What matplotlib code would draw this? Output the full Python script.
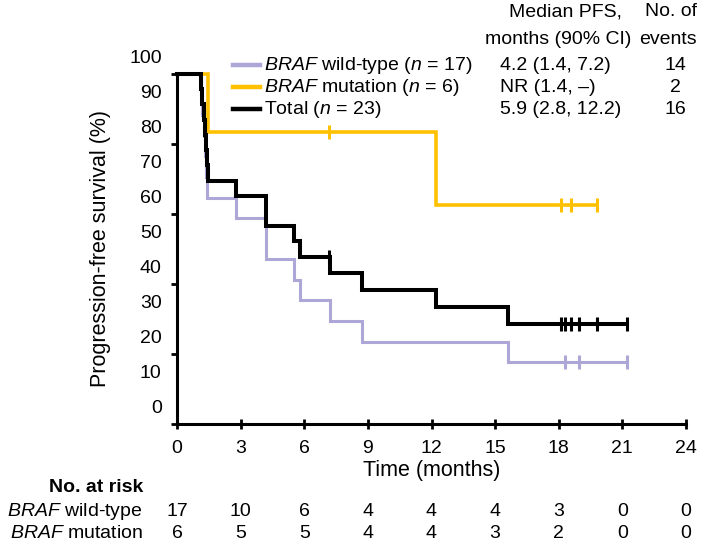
import numpy as np
import matplotlib
matplotlib.use("Agg")
import matplotlib.pyplot as plt
from matplotlib.transforms import blended_transform_factory

plt.rcParams['font.family'] = ['Liberation Sans', 'DejaVu Sans']
plt.rcParams['mathtext.fontset'] = 'custom'
plt.rcParams['mathtext.rm'] = 'Liberation Sans'
plt.rcParams['mathtext.it'] = 'Liberation Sans:italic'

# follow-up times (months) and event flags (1 = progression, 0 = censored)
wt_times = [1.15, 1.2, 1.25, 1.3, 1.35, 1.4, 2.8, 4.2, 4.2, 5.5, 5.8, 7.2, 8.7, 15.6,
            18.3, 18.95, 21.2]
wt_events = [1, 1, 1, 1, 1, 1, 1, 1, 1, 1, 1, 1, 1, 1, 0, 0, 0]
mut_times = [1.45, 7.15, 12.2, 18.1, 18.6, 19.8]
mut_events = [1, 0, 1, 0, 0, 0]

legend_labels = [r'$\mathit{BRAF}$ wild-type ($\mathit{n}$ = 17)',
                 r'$\mathit{BRAF}$ mutation ($\mathit{n}$ = 6)',
                 r'Total ($\mathit{n}$ = 23)']
median_pfs = ['4.2 (1.4, 7.2)', 'NR (1.4, \u2013)', '5.9 (2.8, 12.2)']
n_events = ['14', '2', '16']

risk_times = [0, 3, 6, 9, 12, 15, 18, 21, 24]
risk_wt = [17, 10, 6, 4, 4, 4, 3, 0, 0]
risk_mut = [6, 5, 5, 4, 4, 3, 2, 0, 0]

colors = ['#aca7d6', '#ffc000', '#000000']
widths = [2.2, 2.6, 2.9]
fs = 14


def km(times, events):
    t = np.array(times)
    e = np.array(events)
    n = len(t)
    s = 100.0
    xs, ys, cx, cy = [0], [100.0], [], []
    for ti in np.unique(t):
        d = int(((t == ti) & (e == 1)).sum())
        c = int(((t == ti) & (e == 0)).sum())
        if d:
            s *= (n - d) / n
            xs.append(ti)
            ys.append(s)
        if c:
            cx.append(ti)
            cy.append(s)
        n -= d + c
    xs.append(t.max())
    ys.append(s)
    return xs, ys, cx, cy


fig = plt.figure(figsize=(7.09, 5.44), dpi=100)
ax = fig.add_axes([177 / 709, 0.2206, 509 / 709, 0.6434])

groups = [(wt_times, wt_events), (mut_times, mut_events),
          (wt_times + mut_times, wt_events + mut_events)]
for (tt, ee), col, lw in zip(groups, colors, widths):
    xs, ys, cx, cy = km(tt, ee)
    ax.plot(xs, ys, drawstyle='steps-post', color=col, lw=lw, clip_on=False,
            solid_joinstyle='miter')
    ax.plot(cx, cy, ls='none', marker='|', ms=10, mew=2.2, color=col, clip_on=False)

ax.set_xlim(0, 24)
ax.set_ylim(0, 100)
ax.set_xticks(risk_times)
ax.set_yticks(np.arange(0, 101, 20))
ax.set_yticklabels([])
for sp in ['top', 'right']:
    ax.spines[sp].set_visible(False)
for sp in ['left', 'bottom']:
    ax.spines[sp].set_linewidth(2.2)
ax.tick_params(axis='x', direction='inout', length=7, width=2, labelsize=fs, pad=8)
ax.tick_params(axis='y', direction='out', length=4, width=2)

# y labels sit a little above their tick marks, as in the original
for v in range(0, 101, 10):
    ax.text(-0.03, v + 4.3, str(v), transform=ax.get_yaxis_transform(),
            ha='right', va='center', fontsize=fs, clip_on=False)
ax.set_ylabel('Progression-free survival (%)', fontsize=15.5, labelpad=40)
ax.set_xlabel('Time (months)', fontsize=15.5, labelpad=2)

# legend table
ft = fig.transFigure
fig.text(565 / 709, 1 - 12 / 544, 'Median PFS,', ha='center', va='center', fontsize=fs)
fig.text(558 / 709, 1 - 40 / 544, 'months (90% CI)', ha='center', va='center', fontsize=fs)
fig.text(671 / 709, 1 - 12 / 544, 'No. of', ha='center', va='center', fontsize=fs)
fig.text(668 / 709, 1 - 40 / 544, 'events', ha='center', va='center', fontsize=fs)
for i, (lab, med, ne, col) in enumerate(zip(legend_labels, median_pfs, n_events, colors)):
    y = 1 - (65 + 22 * i) / 544
    fig.add_artist(plt.Line2D([233 / 709, 260 / 709], [y, y], color=col, lw=3.2,
                              transform=ft))
    fig.text(264 / 709, y, lab, ha='left', va='center', fontsize=fs)
    fig.text(500 / 709, y, med, ha='left', va='center', fontsize=fs)
    fig.text(675 / 709, y, ne, ha='center', va='center', fontsize=fs)

# number at risk
bt = blended_transform_factory(ax.transData, ft)
fig.text(143 / 709, 1 - 488 / 544, 'No. at risk', ha='right', va='center',
         fontsize=fs, fontweight='bold')
fig.text(143 / 709, 1 - 511 / 544, r'$\mathit{BRAF}$ wild-type', ha='right',
         va='center', fontsize=fs)
fig.text(143 / 709, 1 - 533 / 544, r'$\mathit{BRAF}$ mutation', ha='right',
         va='center', fontsize=fs)
for t, a, b in zip(risk_times, risk_wt, risk_mut):
    ax.text(t, 1 - 511 / 544, str(a), transform=bt, ha='center', va='center', fontsize=fs)
    ax.text(t, 1 - 533 / 544, str(b), transform=bt, ha='center', va='center', fontsize=fs)

fig.savefig('out.png', dpi=100)
